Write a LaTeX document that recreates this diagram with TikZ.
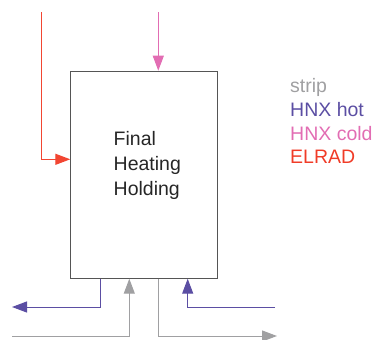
\documentclass[tikz,border=0pt]{standalone}
\usepackage{fontspec}
\setmainfont{Liberation Sans}
\usetikzlibrary{arrows.meta}
\definecolor{cstrip}{HTML}{A0A0A2}
\definecolor{chot}{HTML}{5B4EA3}
\definecolor{ccold}{HTML}{E26DB3}
\definecolor{celrad}{RGB}{240,60,40}
\definecolor{cbox}{HTML}{555555}
\begin{document}
\begin{tikzpicture}[x=1pt,y=-1pt,
  flow/.style={line width=1pt,-{Triangle[length=15pt,width=11pt]}},
  legend/.style={anchor=base west,inner sep=0pt,font=\fontsize{19.5}{25}\selectfont},
  unitbox/.style={draw=cbox,line width=1pt,anchor=north west,minimum width=146.5pt,minimum height=207pt,inner sep=0pt}]
\useasboundingbox (0,0) rectangle (375,340);
\node[unitbox] (box) at (70.3,70.7) {};
% free ends
\coordinate (redstart) at (41.3,12);
\coordinate (redturn) at (41.3,159.3);
\coordinate (pinkstart) at (158.3,12);
\coordinate (hotout) at (12,307);
\coordinate (stripin) at (12,336);
\coordinate (stripout) at (277,336);
\coordinate (hotin) at (275,307);
% connectors
\draw[flow,draw=ccold] (pinkstart) -- (pinkstart |- box.north);
\draw[flow,draw={rgb,255:red,242;green,70;blue,50},line width=1.2pt] (redstart) -- (redturn) -- (redturn -| box.west);
\draw[flow,draw=chot] (box.south -| 100,0) |- (hotout);
\draw[flow,draw=cstrip] (stripin) -| (box.south -| 129.3,0);
\draw[flow,draw=cstrip] (box.south -| 158.3,0) |- (stripout);
\draw[flow,draw=chot] (hotin) -| (box.south -| 187.7,0);
% texts
\node[anchor=base west,align=left,inner sep=0pt,font=\fontsize{19.5}{25}\selectfont,text=black!85] (label) at (113.5,195) {Final\\Heating\\Holding};
\node[legend,text=cstrip] (lstrip) at (290,92) {strip};
\node[legend,text=chot] (lhot) at (290,116) {HNX hot};
\node[legend,text=ccold] (lcold) at (290,140) {HNX cold};
\node[legend,text=celrad] (lelrad) at (290,163.5) {ELRAD};
\end{tikzpicture}
\end{document}
